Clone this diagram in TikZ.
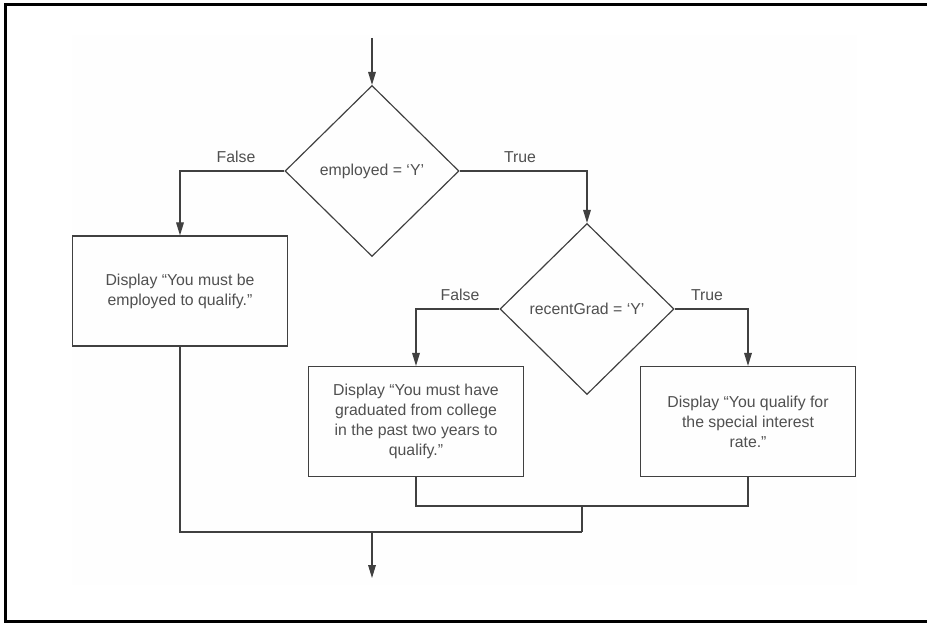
\documentclass[tikz,border=0pt]{standalone}
\usepackage{fontspec}
\setmainfont{Liberation Sans}
\usepackage{tikz}
\usetikzlibrary{positioning,shapes.geometric,arrows.meta}
\definecolor{linegray}{HTML}{404040}
\definecolor{textgray}{HTML}{505050}
\definecolor{paper}{HTML}{FEFEFE}
\tikzstyle{flow_text}=[text=textgray,font=\fontsize{13.5}{17}\selectfont]
\tikzstyle{flow_decision}=[diamond, draw=linegray, line width=1pt, inner sep=0pt, minimum width=52.2mm, minimum height=51.3mm, flow_text]
\tikzstyle{flow_display}=[rectangle, draw=linegray, line width=1pt, minimum width=64.5mm, minimum height=33mm, align=center, flow_text]
\tikzstyle{flow_line}=[draw=linegray, line width=1pt]
\tikzstyle{flow_arrow}=[flow_line, -{Triangle[length=3.9mm,width=2.3mm]}]
\tikzstyle{flow_label}=[flow_text]

\begin{document}
\begin{tikzpicture}[x=0.3mm,y=-0.3mm]

            \useasboundingbox (0,0) rectangle (927,624);

            % Frame
            \fill[paper] (72,35) rectangle (857,585);
            \draw[line width=0.9mm] (940,4.5) -- (5.5,4.5) -- (5.5,621.5) -- (940,621.5);

            % Employed test
            \coordinate (entry) at (372,38);
            \node[flow_decision] (employed) at (372,171) {employed = ‘Y’};
            \draw[flow_arrow] (entry) -- (employed.north);

            % Not employed
            \node[flow_display] (not_employed) at (180,291) {Display “You must be\\employed to qualify.”};
            \draw[flow_arrow] (employed.west) -| (not_employed.north);
            \node[flow_label] (employed_false) at (236,157) {False};

            % Recent graduate test
            \node[flow_decision] (recent_grad) at (587,309) {recentGrad = ‘Y’};
            \draw[flow_arrow] (employed.east) -| (recent_grad.north);
            \node[flow_label] (employed_true) at (520,157) {True};

                % Not graduated
                \node[flow_display] (not_graduated) at (416,421.5) {Display “You must have\\graduated from college\\in the past two years to\\qualify.”};
                \draw[flow_arrow] (recent_grad.west) -| (not_graduated.north);
                \node[flow_label] (grad_false) at (460,295) {False};

                % Qualifies
                \node[flow_display] (qualifies) at (748,421.5) {Display “You qualify for\\the special interest\\rate.”};
                \draw[flow_arrow] (recent_grad.east) -| (qualifies.north);
                \node[flow_label] (grad_true) at (707,295) {True};

            % Merging the branches
            \coordinate (grad_join) at (582,506);
            \coordinate (all_join) at (582,532);
            \coordinate (exit) at (372,578);
            \draw[flow_line] (not_graduated.south) |- (grad_join) -| (qualifies.south);
            \draw[flow_line] (grad_join) -- (all_join);
            \draw[flow_line] (not_employed.south) |- (all_join);
            \draw[flow_arrow] (employed |- all_join) -- (exit);

        \end{tikzpicture}
\end{document}
